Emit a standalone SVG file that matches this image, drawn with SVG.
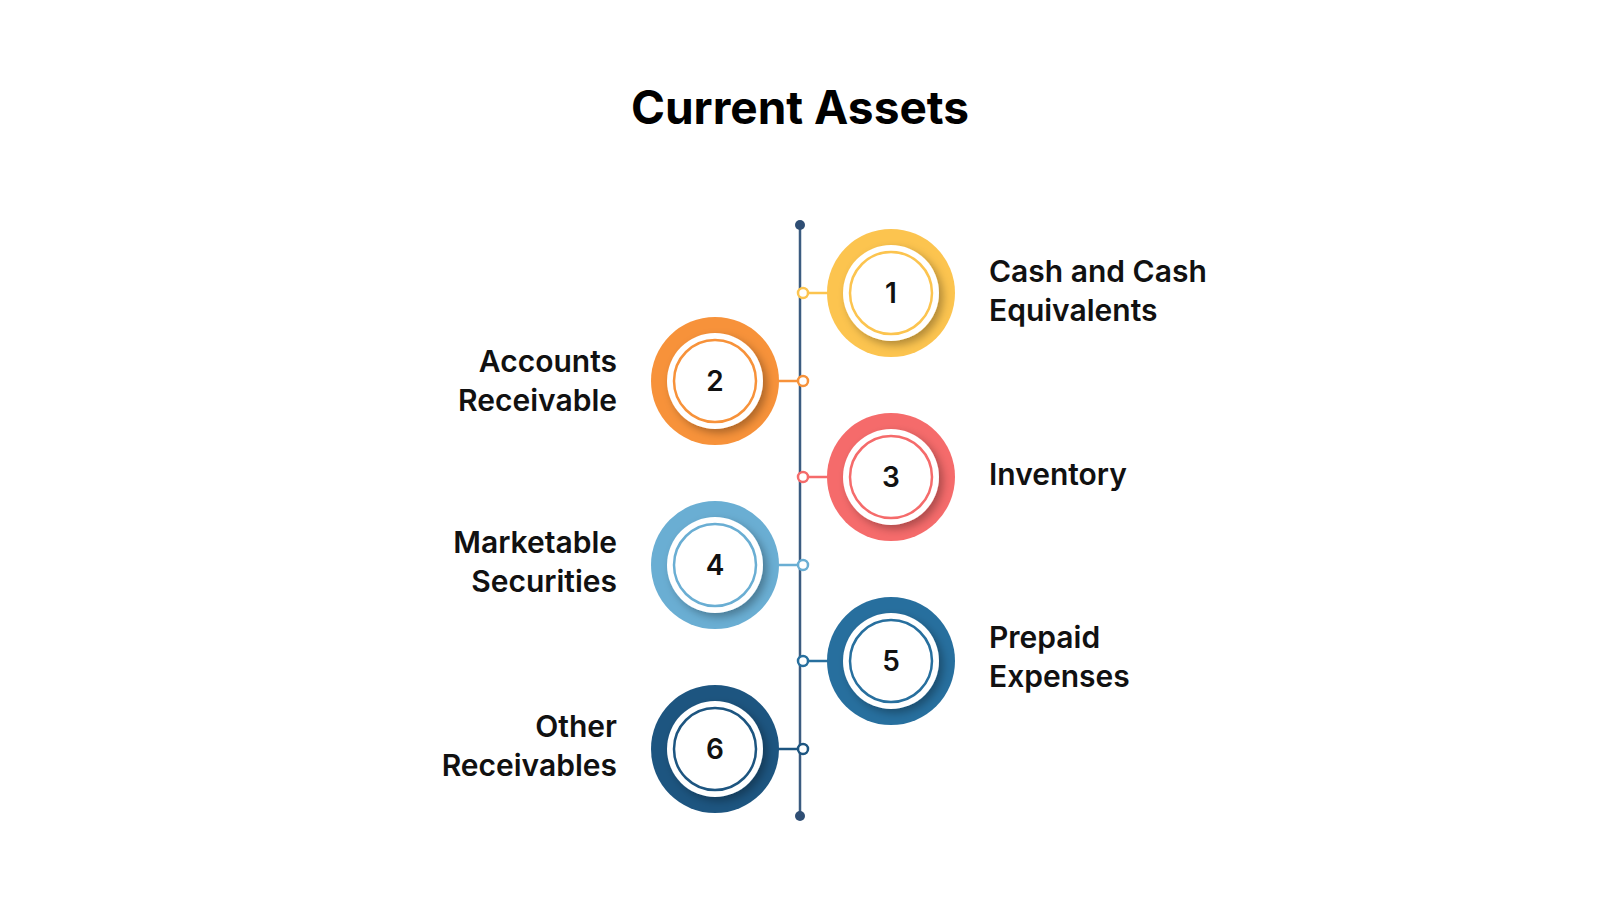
<svg xmlns="http://www.w3.org/2000/svg" width="1600" height="900" viewBox="0 0 1600 900">
<defs>
<filter id="sh" x="-30%" y="-30%" width="160%" height="160%"><feDropShadow dx="4" dy="4" stdDeviation="4" flood-color="#000" flood-opacity="0.3"/></filter>
</defs>
<style>
.t{font-family:Inter,"Noto Sans","Liberation Sans",sans-serif;font-weight:600;font-size:30px;fill:#111}
.n{font-family:Inter,"Noto Sans","Liberation Sans",sans-serif;font-weight:600;font-size:28px;fill:#111;text-anchor:middle}
.ring{fill:none;stroke-width:2.5}
.dot{fill:#fff;stroke-width:2.5}
</style>
<rect width="1600" height="900" fill="#fff"/>
<text x="800" y="124" text-anchor="middle" style="font-family:Inter,'Noto Sans','Liberation Sans',sans-serif;font-weight:700;font-size:46px;fill:#000">Current Assets</text>
<g id="connectors">
<line x1="800" y1="225" x2="800" y2="816" stroke="#3B5B80" stroke-width="2.5"/>
<circle cx="800" cy="225" r="5" fill="#2F4E74"/>
<circle cx="800" cy="816" r="5" fill="#2F4E74"/>
<line x1="800" y1="293" x2="830" y2="293" stroke="#FCC44F" stroke-width="2.5"/><circle class="dot" cx="803" cy="293" r="5" stroke="#FCC44F"/>
<line x1="776" y1="381" x2="803" y2="381" stroke="#F7923A" stroke-width="2.5"/><circle class="dot" cx="803" cy="381" r="5" stroke="#F7923A"/>
<line x1="800" y1="477" x2="830" y2="477" stroke="#F56B6B" stroke-width="2.5"/><circle class="dot" cx="803" cy="477" r="5" stroke="#F56B6B"/>
<line x1="776" y1="565" x2="803" y2="565" stroke="#6AAED3" stroke-width="2.5"/><circle class="dot" cx="803" cy="565" r="5" stroke="#6AAED3"/>
<line x1="800" y1="661" x2="830" y2="661" stroke="#276F9E" stroke-width="2.5"/><circle class="dot" cx="803" cy="661" r="5" stroke="#276F9E"/>
<line x1="776" y1="749" x2="803" y2="749" stroke="#1D5580" stroke-width="2.5"/><circle class="dot" cx="803" cy="749" r="5" stroke="#1D5580"/>
</g>
<g id="node1"><circle cx="891" cy="293" r="64" fill="#FCC44F"/><circle cx="891" cy="293" r="48" fill="#fff" filter="url(#sh)"/><circle class="ring" cx="891" cy="293" r="41" stroke="#FCC44F"/><text class="n" x="891" y="303">1</text>
<text class="t" x="989" y="282">Cash and Cash</text><text class="t" x="989" y="321">Equivalents</text></g>
<g id="node2"><circle cx="715" cy="381" r="64" fill="#F7923A"/><circle cx="715" cy="381" r="48" fill="#fff" filter="url(#sh)"/><circle class="ring" cx="715" cy="381" r="41" stroke="#F7923A"/><text class="n" x="715" y="391">2</text>
<text class="t" x="617" y="372" text-anchor="end">Accounts</text><text class="t" x="617" y="411" text-anchor="end">Receivable</text></g>
<g id="node3"><circle cx="891" cy="477" r="64" fill="#F56B6B"/><circle cx="891" cy="477" r="48" fill="#fff" filter="url(#sh)"/><circle class="ring" cx="891" cy="477" r="41" stroke="#F56B6B"/><text class="n" x="891" y="487">3</text>
<text class="t" x="989" y="485">Inventory</text></g>
<g id="node4"><circle cx="715" cy="565" r="64" fill="#6AAED3"/><circle cx="715" cy="565" r="48" fill="#fff" filter="url(#sh)"/><circle class="ring" cx="715" cy="565" r="41" stroke="#6AAED3"/><text class="n" x="715" y="575">4</text>
<text class="t" x="617" y="553" text-anchor="end">Marketable</text><text class="t" x="617" y="592" text-anchor="end">Securities</text></g>
<g id="node5"><circle cx="891" cy="661" r="64" fill="#276F9E"/><circle cx="891" cy="661" r="48" fill="#fff" filter="url(#sh)"/><circle class="ring" cx="891" cy="661" r="41" stroke="#276F9E"/><text class="n" x="891" y="671">5</text>
<text class="t" x="989" y="648">Prepaid</text><text class="t" x="989" y="687">Expenses</text></g>
<g id="node6"><circle cx="715" cy="749" r="64" fill="#1D5580"/><circle cx="715" cy="749" r="48" fill="#fff" filter="url(#sh)"/><circle class="ring" cx="715" cy="749" r="41" stroke="#1D5580"/><text class="n" x="715" y="759">6</text>
<text class="t" x="617" y="737" text-anchor="end">Other</text><text class="t" x="617" y="776" text-anchor="end">Receivables</text></g>
</svg>
